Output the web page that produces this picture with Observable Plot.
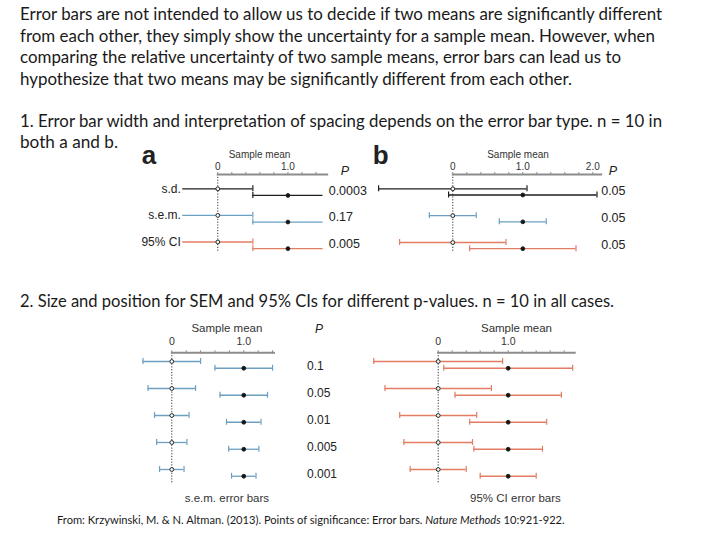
<!DOCTYPE html>
<html><head><meta charset="utf-8">
<script src="https://cdn.jsdelivr.net/npm/d3@7"></script>
<script src="https://cdn.jsdelivr.net/npm/@observablehq/plot@0.6"></script>
<style>
body{margin:0;background:#fff;}
#page{position:relative;width:720px;height:540px;overflow:hidden;background:#fff;}
#page > svg{position:absolute;}
</style></head><body><div id="page"></div>
<script>
// ---------- data ----------
const means = [0, 1.0];
const rowsA = ["s.d.", "s.e.m.", "95% CI"];
const halfA = [0.5, 0.5, 0.5];
const pA = ["0.0003", "0.17", "0.005"];
const halfB = [1.06, 0.335, 0.76];
const pB = ["0.05", "0.05", "0.05"];
const colorsAB = ["#1e1e1e", "#6a9fc2", "#e27d63"];
const p2 = ["0.1", "0.05", "0.01", "0.005", "0.001"];
const sem2 = [0.40, 0.33, 0.24, 0.21, 0.17];
const ci2 = [0.92, 0.76, 0.55, 0.49, 0.40];
const majorTicks = [0, 1, 2];
const majorLabels = ["0", "1.0", "2.0"];
const paragraph = [
  "Error bars are not intended to allow us to decide if two means are significantly different",
  "from each other, they simply show the uncertainty for a sample mean. However, when",
  "comparing the relative uncertainty of two sample means, error bars can lead us to",
  "hypothesize that two means may be significantly different from each other.",
  "1. Error bar width and interpretation of spacing depends on the error bar type. n = 10 in",
  "both a and b.",
  "2. Size and position for SEM and 95% CIs for different p-values. n = 10 in all cases."
];
const citation = ["From: Krzywinski, M. & N. Altman. (2013). Points of significance: Error bars. ", "Nature Methods", " 10:921-922."];

// ---------- page text ----------
const page = document.getElementById("page");
const NS = "http://www.w3.org/2000/svg";
const tsvg = document.createElementNS(NS, "svg");
tsvg.setAttribute("width", 720); tsvg.setAttribute("height", 540);
tsvg.style.left = "0px"; tsvg.style.top = "0px";
page.appendChild(tsvg);
const lineLayout = [
  {x: 20, y: 20, w: 642}, {x: 20, y: 41.5, w: 635}, {x: 20, y: 63, w: 601}, {x: 20, y: 84.5, w: 552},
  {x: 20, y: 126.5, w: 642}, {x: 20, y: 148, w: 98}, {x: 20, y: 306.5, w: 594}
];
const bodyFont = "Lato, 'Open Sans', sans-serif";
paragraph.forEach((s, i) => {
  const L = lineLayout[i];
  const t = document.createElementNS(NS, "text");
  t.setAttribute("x", L.x); t.setAttribute("y", L.y);
  t.setAttribute("textLength", L.w); t.setAttribute("lengthAdjust", "spacingAndGlyphs");
  t.setAttribute("font-family", bodyFont); t.setAttribute("font-size", 16.5); t.setAttribute("fill", "#1a1a1a");
  t.textContent = s;
  tsvg.appendChild(t);
});
{
  const t = document.createElementNS(NS, "text");
  t.setAttribute("x", 57); t.setAttribute("y", 524);
  t.setAttribute("font-family", bodyFont); t.setAttribute("font-size", 11); t.setAttribute("fill", "#1a1a1a");
  citation.forEach((s, i) => {
    const sp = document.createElementNS(NS, "tspan");
    if (i === 1) sp.setAttribute("font-style", "italic");
    sp.textContent = s; t.appendChild(sp);
  });
  tsvg.appendChild(t);
  const len = t.getComputedTextLength();
  if (len > 0) t.setAttribute("font-size", (11 * 508 / len).toFixed(2));
}

// ---------- panels ----------
const chartFont = "'Liberation Sans', Arial, sans-serif";
function panel(o) {
  const n = o.halves.length;
  const bars = [], caps = [], dots = [];
  o.halves.forEach((h, i) => means.forEach((m, g) => {
    const y = i + g * o.off, c = o.colors[i];
    bars.push({y, lo: m - h, hi: m + h, c});
    if (o.outerCaps || g === 1) caps.push({x: m - h, y, c});
    if (o.outerCaps || g === 0) caps.push({x: m + h, y, c});
    dots.push({x: m, y, g});
  }));
  const ticks = d3.range(0, o.axisMax + 1e-9, 0.2);
  const fmt = d => { const k = majorTicks.findIndex(t => Math.abs(t - d) < 1e-6); return k >= 0 ? majorLabels[k] : ""; };
  const marks = [
    Plot.ruleX([means[0]], {stroke: "#333", strokeWidth: 1, strokeDasharray: "1.2,1.6"}),
    Plot.frame({anchor: "top", stroke: "#8c8c8c", strokeWidth: 2}),
    Plot.axisX({anchor: "top", ticks, tickSize: 3, tickPadding: o.tickPad, tickFormat: fmt, stroke: "#8c8c8c", fill: "#333", fontSize: o.tickSize, label: null}),
    Plot.ruleY(bars, {y: "y", x1: "lo", x2: "hi", stroke: "c", strokeWidth: 1.3}),
    Plot.ruleX(caps, {x: "x", y1: d => d.y - o.cap, y2: d => d.y + o.cap, stroke: "c", strokeWidth: 1.2}),
    Plot.dot(dots, {x: "x", y: "y", r: 1.9, fill: d => d.g ? "#111" : "#fff", stroke: "#222", strokeWidth: 1}),
    Plot.text([o.title], {frameAnchor: "top", lineAnchor: "middle", dx: o.titleDx, dy: o.titleDy, fontSize: o.titleSize, fill: "#333"})
  ];
  if (o.rows) marks.push(Plot.text(o.rows, {y: (d, i) => i, frameAnchor: "left", textAnchor: "end", dx: o.rowDx, fontSize: 12, fill: "#222"}));
  if (o.pvals) {
    marks.push(Plot.text(o.pvals, {y: (d, i) => i, frameAnchor: "right", textAnchor: "start", dx: o.pDx, dy: o.pDy, fontSize: o.pSize, fill: "#222"}));
    marks.push(Plot.text(["P"], {frameAnchor: "top-right", lineAnchor: "middle", dx: o.PDx, dy: o.PDy, fontSize: o.pSize, fontStyle: "italic", fill: "#222"}));
  }
  if (o.letter) marks.push(Plot.text([o.letter], {frameAnchor: "top-left", lineAnchor: "bottom", textAnchor: "start", dx: o.letterDx, dy: o.letterDy, fontSize: 26, fontWeight: "bold", fill: "#222"}));
  if (o.bottom) marks.push(Plot.text([o.bottom], {frameAnchor: "bottom", lineAnchor: "middle", dx: o.bottomDx, dy: o.bottomDy, fontSize: o.titleSize, fill: "#333"}));
  const svg = Plot.plot({
    width: o.width, height: o.height,
    marginLeft: o.ml, marginRight: o.mr, marginTop: o.mt, marginBottom: o.mb,
    x: {domain: [0, o.axisMax]},
    y: {domain: [0, n - 1], range: o.yRange, axis: null},
    style: {background: "transparent", overflow: "visible", fontFamily: chartFont},
    marks
  });
  svg.style.left = o.left + "px"; svg.style.top = o.top + "px";
  page.appendChild(svg);
}

// panel a
panel({left: 130, top: 140, width: 235, height: 120, ml: 87.3, mr: 38.3, mt: 34, mb: 8,
  axisMax: 1.56, yRange: [48.3, 101.5], off: 0.25, cap: 0.11, halves: halfA, colors: colorsAB,
  outerCaps: false, tickSize: 10, tickPad: 2, title: "Sample mean", titleSize: 10, titleDx: -13, titleDy: -20,
  rows: rowsA, rowDx: -37, pvals: pA, pDx: 1.5, pDy: 2, pSize: 12.5, PDx: 22, PDy: -4,
  letter: "a", letterDx: -76, letterDy: -11});
// panel b
panel({left: 365, top: 140, width: 275, height: 120, ml: 87.3, mr: 39.3, mt: 34, mb: 8,
  axisMax: 2.12, yRange: [48.3, 102], off: 0.23, cap: 0.11, halves: halfB, colors: colorsAB,
  outerCaps: true, tickSize: 10, tickPad: 2, title: "Sample mean", titleSize: 10, titleDx: -9, titleDy: -20,
  pvals: pB, pDx: 0, pDy: 2, pSize: 12.5, PDx: 16, PDy: -4,
  letter: "b", letterDx: -80, letterDy: -11});
// part 2: s.e.m.
panel({left: 130, top: 315, width: 230, height: 195, ml: 41.3, mr: 86.5, mt: 37.3, mb: 27,
  axisMax: 1.42, yRange: [46, 154], off: 0.25, cap: 0.11, halves: sem2, colors: sem2.map(() => "#6d9fc0"),
  outerCaps: true, tickSize: 10.5, tickPad: 5, title: "Sample mean", titleSize: 11.5, titleDx: 4, titleDy: -24,
  pvals: p2, pDx: 33, pDy: 4.7, pSize: 12, PDx: 49, PDy: -24,
  bottom: "s.e.m. error bars", bottomDx: 4, bottomDy: 14.7});
// part 2: 95% CI
panel({left: 365, top: 315, width: 230, height: 195, ml: 72.7, mr: 20.8, mt: 37.3, mb: 27,
  axisMax: 1.95, yRange: [46, 154], off: 0.25, cap: 0.11, halves: ci2, colors: ci2.map(() => "#e27d63"),
  outerCaps: true, tickSize: 10.5, tickPad: 5, title: "Sample mean", titleSize: 11.5, titleDx: 10, titleDy: -24,
  bottom: "95% CI error bars", bottomDx: 9, bottomDy: 14.7});
</script></body></html>
